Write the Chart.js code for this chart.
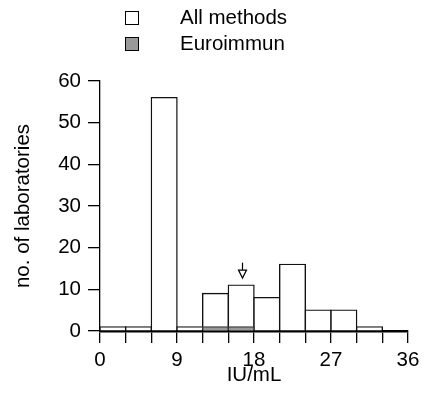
<!DOCTYPE html>
<html>
<head>
<meta charset="utf-8">
<script src="https://cdn.jsdelivr.net/npm/chart.js@4"></script>
<style>
  html, body { margin: 0; padding: 0; background: #fff; }
  #wrap { width: 426px; height: 394px; }
</style>
</head>
<body>
<div id="wrap"><canvas id="histChart" width="426" height="394"></canvas></div>
<script>
// histogram bins (IU/mL), width 3
const binCenters = [1.5, 4.5, 7.5, 10.5, 13.5, 16.5, 19.5, 22.5, 25.5, 28.5, 31.5, 34.5];
const allMethods = [1, 1, 56, 1, 9, 11, 8, 16, 5, 5, 1, 0];
const euroimmun  = [0, 0, 0, 0, 1, 1, 0, 0, 0, 0, 0, 0];
const xLabelTicks = [0, 9, 18, 27, 36];

// arrow marking the target value
const arrowX = 16.6;
const arrowFrom = 16.4;
const arrowTo = 12.7;

const FONT = "Liberation Sans, Arial, sans-serif";

// legend drawn by hand, R style
const legendPlugin = {
  id: 'rLegend',
  afterDraw(chart) {
    const ctx = chart.ctx;
    ctx.save();
    ctx.font = "20.5px " + FONT;
    ctx.textBaseline = "alphabetic";
    chart.data.datasets.forEach((ds, i) => {
      const y = 11 + i * 26;
      ctx.fillStyle = ds.backgroundColor;
      ctx.fillRect(125.5, y + 0.5, 13, 13);
      ctx.strokeStyle = "#000";
      ctx.lineWidth = 1;
      ctx.strokeRect(125.5, y + 0.5, 13, 13);
      ctx.fillStyle = "#000";
      ctx.fillText(ds.label, 180, y + 13);
    });
    ctx.restore();
  }
};

// downward arrow with open head
const arrowPlugin = {
  id: 'arrow',
  afterDatasetsDraw(chart) {
    const ctx = chart.ctx;
    const xs = chart.scales.x, ys = chart.scales.y;
    const px = Math.round(xs.getPixelForValue(arrowX)) + 0.5;
    const y0 = ys.getPixelForValue(arrowFrom);
    const y1 = ys.getPixelForValue(arrowTo);
    ctx.save();
    ctx.strokeStyle = "#000";
    ctx.fillStyle = "#fff";
    ctx.lineWidth = 1.2;
    ctx.beginPath();
    ctx.moveTo(px, y0);
    ctx.lineTo(px, y1 - 8);
    ctx.stroke();
    ctx.beginPath();
    ctx.moveTo(px - 4, y1 - 8);
    ctx.lineTo(px + 4, y1 - 8);
    ctx.lineTo(px, y1);
    ctx.closePath();
    ctx.fill();
    ctx.stroke();
    ctx.restore();
  }
};

const ctx = document.getElementById('histChart').getContext('2d');
new Chart(ctx, {
  type: "bar",
  data: {
    datasets: [{
      label: "All methods",
      data: binCenters.map((x, i) => ({ x, y: allMethods[i] })),
      backgroundColor: "#ffffff",
      borderColor: "#111",
      borderWidth: 1.4,
      grouped: false,
      barPercentage: 1,
      categoryPercentage: 1,
      inflateAmount: 0.7,
      order: 2
    }, {
      label: "Euroimmun",
      data: binCenters.map((x, i) => ({ x, y: euroimmun[i] })),
      backgroundColor: "#999999",
      borderColor: "#333",
      borderWidth: 1.4,
      grouped: false,
      barPercentage: 1,
      categoryPercentage: 1,
      inflateAmount: 0.7,
      order: 1
    }]
  },
  options: {
    responsive: false,
    animation: false,
    layout: { padding: { left: 0, top: 81, right: 18, bottom: 0 } },
    plugins: { legend: { display: false }, tooltip: { enabled: false } },
    scales: {
      x: {
        type: "linear",
        min: 0, max: 36,
        offset: false,
        grid: { display: true, drawOnChartArea: false, offset: false, tickLength: 12, color: "#000", lineWidth: 1.3 },
        border: { display: true, color: "#000", width: 2.6 },
        afterBuildTicks(scale) {
          scale.ticks = binCenters.map(c => ({ value: c - 1.5 })).concat([{ value: 36 }]);
        },
        ticks: {
          autoSkip: false, maxRotation: 0, padding: 5, color: "#000",
          font: { family: FONT, size: 20.5 },
          callback: v => xLabelTicks.includes(v) ? String(v) : ""
        },
        title: { display: true, text: "IU/mL", color: "#000", font: { family: FONT, size: 20.5 }, padding: { top: 0, bottom: 6 } },
        afterFit(scale) { scale.height = 63; }
      },
      y: {
        min: 0, max: 60,
        grid: { display: true, drawOnChartArea: false, tickLength: 12, color: "#000", lineWidth: 1.3 },
        border: { display: true, color: "#000", width: 1.3 },
        ticks: { stepSize: 10, padding: 7, color: "#000", font: { family: FONT, size: 20.5 } },
        title: { display: true, text: "no. of laboratories", color: "#000", font: { family: FONT, size: 20.5 }, padding: { top: 11, bottom: 0 } },
        afterFit(scale) { scale.width = 100; }
      }
    }
  },
  plugins: [legendPlugin, arrowPlugin]
});
</script>
</body>
</html>
